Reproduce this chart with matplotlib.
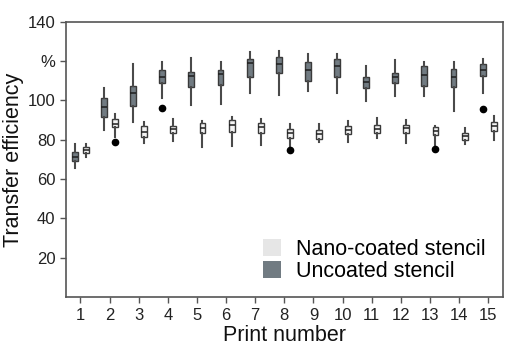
import matplotlib
matplotlib.use("Agg")
import matplotlib.pyplot as plt
from matplotlib.patches import Patch

plt.rcParams['font.family'] = ['Liberation Sans', 'DejaVu Sans']

prints = list(range(1, 16))

# uncoated stencil: whisker low, q1, median, q3, whisker high
unc_lo  = [65.5, 85.0, 89.3, 101.5, 97.8, 98.1, 104.0, 102.8, 104.9, 104.0, 99.8, 102.3, 102.3, 94.7, 103.7]
unc_q1  = [69.4, 91.5, 97.1, 108.8, 107.1, 107.9, 111.9, 113.9, 110.1, 111.9, 106.2, 108.8, 107.4, 106.8, 112.5]
unc_med = [71.4, 96.6, 104.0, 111.9, 112.5, 113.4, 119.2, 118.7, 115.4, 117.3, 109.3, 111.9, 113.0, 111.9, 115.6]
unc_q3  = [73.7, 101.2, 107.3, 115.6, 114.7, 115.6, 121.0, 122.0, 119.8, 121.0, 112.2, 114.2, 117.3, 115.9, 118.6]
unc_hi  = [77.9, 106.6, 118.5, 119.8, 121.5, 119.8, 124.9, 125.4, 123.5, 123.7, 117.6, 120.7, 119.8, 119.5, 121.3]
unc_out = {4: [96.4], 15: [95.7]}

# nano-coated stencil
nano_lo  = [71.1, 81.3, 78.2, 79.6, 76.2, 76.9, 77.4, 76.6, 78.8, 79.1, 80.8, 78.6, 77.4, 77.9, 79.9]
nano_q1  = [73.5, 86.4, 81.5, 83.3, 83.3, 84.2, 83.3, 80.8, 80.3, 82.8, 83.3, 83.7, 82.3, 79.9, 84.5]
nano_med = [74.8, 88.2, 84.2, 85.5, 86.2, 87.4, 86.4, 83.7, 83.0, 85.0, 85.5, 85.9, 84.7, 82.0, 87.1]
nano_q3  = [76.2, 90.5, 87.1, 87.2, 88.4, 90.3, 88.8, 85.4, 85.0, 86.8, 87.4, 87.4, 86.4, 83.3, 89.1]
nano_hi  = [77.9, 93.0, 89.3, 90.5, 89.8, 91.5, 90.8, 88.1, 88.1, 89.8, 91.3, 90.1, 87.2, 85.9, 92.3]
nano_out = {2: [78.8], 8: [74.7], 13: [75.5]}

unc_color = '#717b82'
nano_color = '#f4f4f4'
edge = '#3a3a3a'


def make_stats(lo, q1, med, q3, hi, out):
    stats = []
    for i, p in enumerate(prints):
        stats.append(dict(whislo=lo[i], q1=q1[i], med=med[i], q3=q3[i],
                          whishi=hi[i], fliers=out.get(p, [])))
    return stats


fig = plt.figure(figsize=(5.27, 3.58), dpi=100)
ax = fig.add_axes([0.125, 0.170, 0.829, 0.769])

common = dict(widths=0.2, showcaps=False, patch_artist=True,
              whiskerprops=dict(color='#4a4a4a', linewidth=1.5),
              medianprops=dict(color='#1e1e1e', linewidth=1.1),
              flierprops=dict(marker='o', markerfacecolor='black',
                              markeredgecolor='black', markersize=4.5))

ax.bxp(make_stats(unc_lo, unc_q1, unc_med, unc_q3, unc_hi, unc_out),
       positions=[p - 0.19 for p in prints],
       boxprops=dict(facecolor=unc_color, edgecolor=edge, linewidth=1.0),
       **common)
ax.bxp(make_stats(nano_lo, nano_q1, nano_med, nano_q3, nano_hi, nano_out),
       positions=[p + 0.19 for p in prints],
       boxprops=dict(facecolor=nano_color, edgecolor=edge, linewidth=1.0),
       **common)

ax.set_xlim(0.5, 15.5)
ax.set_ylim(0, 140)
ax.set_xticks(prints)
ax.set_xticklabels([str(p) for p in prints])
ax.set_yticks([20, 40, 60, 80, 100, 120, 140])
ax.set_yticklabels(['20', '40', '60', '80', '100', '%', '140'])
ax.tick_params(direction='out', length=4, width=1, color='#555555',
               labelsize=12, labelcolor='#222222')

for s in ax.spines.values():
    s.set_color('#555555')
    s.set_linewidth(1.2)

ax.set_xlabel('Print number', fontsize=15.5, color='#111111', labelpad=2)
ax.set_ylabel('Transfer efficiency', fontsize=15.5, color='#111111', labelpad=3)

handles = [Patch(facecolor='#e6e6e6', edgecolor='none', label='Nano-coated stencil'),
           Patch(facecolor=unc_color, edgecolor='none', label='Uncoated stencil')]
ax.legend(handles=handles, loc='lower right', bbox_to_anchor=(0.995, 0.0),
          frameon=False, fontsize=15.5, handlelength=0.85, handleheight=0.85,
          handletextpad=0.7, labelspacing=0.05, borderpad=0.2)

fig.savefig('out.png', dpi=100)
